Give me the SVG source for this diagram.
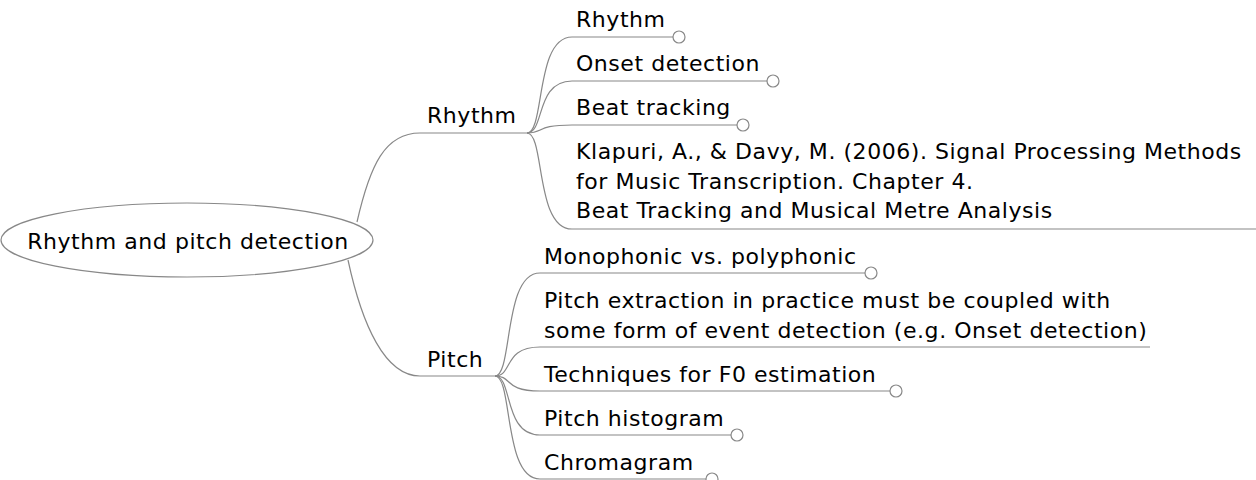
<svg xmlns="http://www.w3.org/2000/svg" width="1256" height="480" viewBox="0 0 1256 480">
<style>
text{font-family:"DejaVu Sans",Verdana,sans-serif;font-size:22px;letter-spacing:0.55px;fill:#000}
.c{fill:none;stroke:#888;stroke-width:1.2}
.d{fill:#fff;stroke:#888;stroke-width:1.2}
</style>
<rect width="1256" height="480" fill="#fff"/>
<g id="connectors">
<path class="c" d="M357,222 C370,165 385,133 420,133 L527,133"/>
<path class="c" d="M348,260 C362,325 385,376 420,376 L495,376"/>
<path class="c" d="M527,133 C545,133 535,37 572,37 L673,37"/>
<path class="c" d="M527,133 C545,133 535,81 572,81 L767,81"/>
<path class="c" d="M527,133 C545,133 535,125 572,125 L737,125"/>
<path class="c" d="M527,133 C545,133 535,229 572,229 L1256,229"/>
<path class="c" d="M495,376 C513,376 503,273 540,273 L865,273"/>
<path class="c" d="M495,376 C513,376 503,347 540,347 L1150,347"/>
<path class="c" d="M495,376 C513,376 503,391 540,391 L890,391"/>
<path class="c" d="M495,376 C513,376 503,435 540,435 L731,435"/>
<path class="c" d="M495,376 C513,376 503,479 540,479 L706,479"/>
</g>
<g id="root">
<ellipse cx="187" cy="240" rx="186" ry="37" fill="#fff" stroke="#888" stroke-width="1.2"/>
<text x="188" y="249" text-anchor="middle">Rhythm and pitch detection</text>
</g>
<g id="rhythm"><text x="427" y="123">Rhythm</text></g>
<g id="pitch"><text x="427" y="367">Pitch</text></g>
<g id="r1"><text x="576" y="27">Rhythm</text><circle class="d" cx="679" cy="37" r="6"/></g>
<g id="r2"><text x="576" y="71">Onset detection</text><circle class="d" cx="773" cy="81" r="6"/></g>
<g id="r3"><text x="576" y="115">Beat tracking</text><circle class="d" cx="743" cy="125" r="6"/></g>
<g id="r4"><text x="576" y="159">Klapuri, A., &amp; Davy, M. (2006). Signal Processing Methods</text><text x="576" y="189">for Music Transcription. Chapter 4.</text><text x="576" y="218">Beat Tracking and Musical Metre Analysis</text></g>
<g id="p1"><text x="544" y="264">Monophonic vs. polyphonic</text><circle class="d" cx="871" cy="273" r="6"/></g>
<g id="p2"><text x="544" y="308">Pitch extraction in practice must be coupled with</text><text x="544" y="338">some form of event detection (e.g. Onset detection)</text></g>
<g id="p3"><text x="544" y="382">Techniques for F0 estimation</text><circle class="d" cx="896" cy="391" r="6"/></g>
<g id="p4"><text x="544" y="426">Pitch histogram</text><circle class="d" cx="737" cy="435" r="6"/></g>
<g id="p5"><text x="544" y="470">Chromagram</text><circle class="d" cx="712" cy="479" r="6"/></g>
</svg>
